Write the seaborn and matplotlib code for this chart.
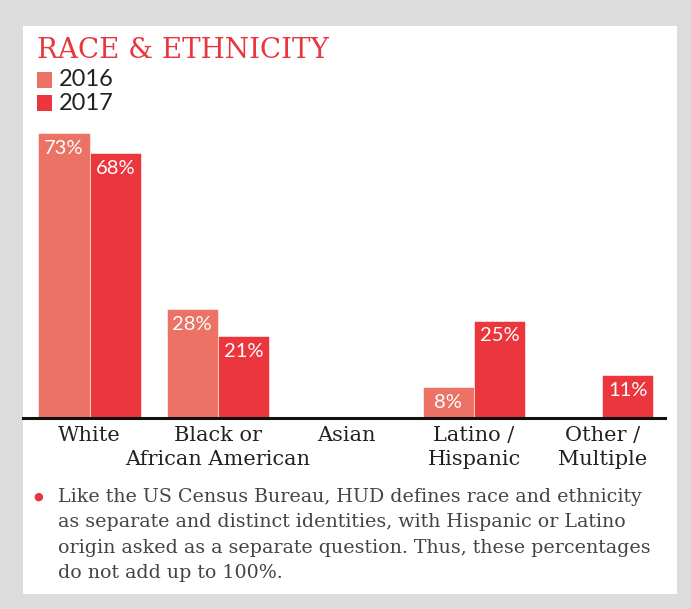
import pandas as pd
import numpy as np
import matplotlib
matplotlib.use('Agg')
import matplotlib.pyplot as plt
import seaborn as sns
from matplotlib.patches import Rectangle

# data
categories = ['White', 'Black or\nAfrican American', 'Asian', 'Latino /\nHispanic', 'Other /\nMultiple']
years = ['2016', '2017']
pct_2016 = [73, 28, np.nan, 8, np.nan]
pct_2017 = [68, 21, np.nan, 25, 11]
colors = ['#eb7264', '#ec363d']

df = pd.DataFrame({
    'category': categories * 2,
    'year': ['2016'] * 5 + ['2017'] * 5,
    'pct': pct_2016 + pct_2017,
})

sns.set_style('white')
W, H = 691, 609
fig = plt.figure(figsize=(W / 100, H / 100), dpi=100, facecolor='#dddcdd')

# white card (behind the axes)
fig.patches.append(Rectangle((23 / W, 1 - 594 / H), (677 - 23) / W, (594 - 26) / H,
                             transform=fig.transFigure, facecolor='white', edgecolor='none', zorder=-5))

ax = fig.add_axes([23 / W, 1 - 418 / H, (665 - 23) / W, (418 - 120) / H])
ax.set_facecolor('none')
sns.barplot(data=df, x='category', y='pct', hue='year', hue_order=years,
            palette=colors, width=0.8, ax=ax, edgecolor='white', linewidth=0.4,
            legend=False, saturation=1)

ax.set_xlim(-0.52, 4.49)
ax.set_ylim(0, (418 - 120) / 3.9)
ax.set_xlabel('')
ax.set_ylabel('')
ax.set_yticks([])
sns.despine(ax=ax, left=True)
ax.spines['bottom'].set_linewidth(2.2)
ax.spines['bottom'].set_color('#111111')
ax.tick_params(axis='x', length=0, pad=6)
ax.set_xticks(range(len(categories)))
ax.set_xticklabels(categories, family='DejaVu Serif', fontsize=15, color='#222222',
                   linespacing=1.33, va='top')

# value labels inside the bar tops
for cont in ax.containers:
    for bar in cont:
        if bar is None or np.isnan(bar.get_height()):
            continue
        ax.annotate(f'{bar.get_height():.0f}%',
                    (bar.get_x() + bar.get_width() / 2, bar.get_height()),
                    xytext=(0, -11), textcoords='offset points', ha='center', va='center',
                    color='white', fontsize=14.5, family='Lato')

# title and legend
fig.text(37 / W, 1 - 50 / H, 'RACE & ETHNICITY', family='DejaVu Serif', fontsize=20,
         color='#e8363f', va='center', ha='left')
for i, (yr, c) in enumerate(zip(years, colors)):
    yc = 80 + i * 23
    fig.patches.append(Rectangle((37 / W, 1 - (yc + 8) / H), 15 / W, 16 / H,
                                 transform=fig.transFigure, facecolor=c, edgecolor='none'))
    fig.text(59 / W, 1 - yc / H, yr, family='Lato', fontsize=17, color='#222222',
             va='center', ha='left')

# footnote
note = ('Like the US Census Bureau, HUD defines race and ethnicity\n'
        'as separate and distinct identities, with Hispanic or Latino\n'
        'origin asked as a separate question. Thus, these percentages\n'
        'do not add up to 100%.')
fig.text(38 / W, 1 - 497 / H, '\u25CF', color='#e8363f', fontsize=8, va='center', ha='center')
fig.text(58 / W, 1 - 488 / H, note, family='DejaVu Serif', fontsize=13.7, color='#444444',
         va='top', ha='left', linespacing=1.52)

plt.savefig('out.png', dpi=100, facecolor=fig.get_facecolor())
